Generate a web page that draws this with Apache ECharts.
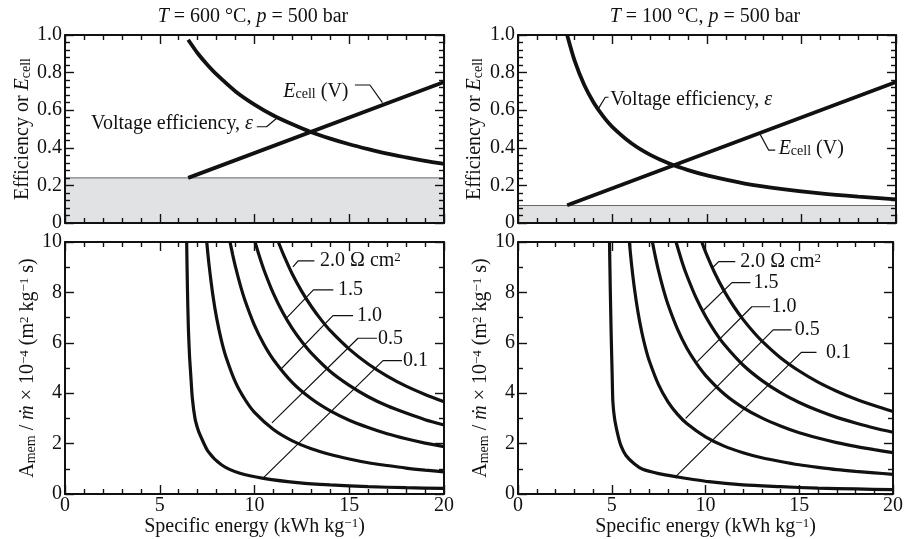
<!DOCTYPE html>
<html>
<head>
<meta charset="utf-8">
<script src="https://cdn.jsdelivr.net/npm/echarts@6/dist/echarts.min.js"></script>
<style>
  html, body { margin: 0; padding: 0; background: #fff; }
  #chart { width: 906px; height: 539px; }
</style>
</head>
<body>
<div id="chart"></div>
<script>
const FONT = '"Liberation Serif", "DejaVu Serif", serif';
const INK = '#111';

// ── top panels: efficiency and cell voltage vs specific energy ──
const EFF_600 = [[6.5, 0.975], [7, 0.903], [7.5, 0.843], [8, 0.79], [9, 0.70], [10, 0.63], [11, 0.572], [12, 0.525],
  [13, 0.483], [14, 0.449], [15, 0.419], [16, 0.393], [17, 0.369], [18, 0.349], [19, 0.33], [20, 0.314]];
const ECELL_600 = [[6.5, 0.24], [20, 0.75]];
const FLOOR_600 = 0.24;

const EFF_100 = [[2.6, 1.0], [3, 0.862], [3.5, 0.735], [4, 0.641], [4.5, 0.568], [5, 0.51], [6, 0.424], [7, 0.362],
  [8, 0.316], [9, 0.281], [10, 0.253], [12, 0.21], [14, 0.18], [16, 0.157], [18, 0.14], [20, 0.126]];
const ECELL_100 = [[2.6, 0.094], [20, 0.75]];
const FLOOR_100 = 0.093;

// ── bottom panels: membrane area per mass flow, one curve per resistance ──
const R_LABELS = ['0.1', '0.5', '1.0', '1.5', '2.0'];

const AREA_600_R01 = [[6.42, 10], [6.46, 8.2], [6.51, 6.6], [6.57, 5.5], [6.63, 4.8], [6.72, 3.8], [6.86, 3.0], [7.0, 2.6],
  [7.13, 2.34], [7.56, 1.68], [8.27, 1.15], [9.23, 0.82], [10.47, 0.62], [12.4, 0.44], [14, 0.36], [16, 0.29], [18, 0.25], [20, 0.22]];
const AREA_600_R05 = [[7.48, 10], [7.6, 9.1], [7.8, 7.91], [8, 6.99], [8.25, 6.11], [8.5, 5.43], [9, 4.43], [9.5, 3.75],
  [10, 3.24], [11, 2.56], [12, 2.11], [13, 1.8], [14, 1.57], [15, 1.39], [16, 1.24], [17, 1.13], [18, 1.03], [19, 0.95], [20, 0.88]];
const AREA_600_R10 = [[8.71, 10], [8.85, 9.49], [9, 9.0], [9.25, 8.29], [9.5, 7.68], [10, 6.69], [10.5, 5.93], [11, 5.33],
  [12, 4.42], [13, 3.78], [14, 3.3], [15, 2.93], [16, 2.64], [17, 2.39], [18, 2.19], [19, 2.02], [20, 1.88]];
const AREA_600_R15 = [[10.03, 10], [10.25, 9.45], [10.5, 8.89], [11, 7.95], [11.5, 7.19], [12, 6.56], [12.5, 6.04], [13, 5.59],
  [14, 4.86], [15, 4.31], [16, 3.86], [17, 3.5], [18, 3.21], [19, 2.95], [20, 2.74]];
const AREA_600_R20 = [[11.26, 10], [11.5, 9.55], [12, 8.72], [12.5, 8.03], [13, 7.44], [13.5, 6.93], [14, 6.48], [15, 5.75],
  [16, 5.16], [17, 4.68], [18, 4.28], [19, 3.95], [20, 3.66]];

const AREA_100_R01 = [[4.88, 10], [4.92, 8.2], [4.97, 6.31], [5.02, 4.8], [5.06, 3.66], [5.15, 3.0], [5.33, 2.34], [5.5, 1.9],
  [5.76, 1.53], [6.2, 1.2], [6.65, 0.98], [7.5, 0.81], [8.41, 0.69], [10.17, 0.49], [12, 0.36], [14, 0.29], [16, 0.23], [18, 0.2], [20, 0.17]];
const AREA_100_R05 = [[5.94, 10], [6.05, 9.15], [6.2, 8.21], [6.4, 7.21], [6.6, 6.43], [6.8, 5.8], [7, 5.29], [7.5, 4.33],
  [8, 3.66], [8.5, 3.17], [9, 2.8], [10, 2.27], [11, 1.9], [12, 1.64], [13, 1.44], [14, 1.29], [15, 1.16], [16, 1.06], [17, 0.97], [18, 0.9], [19, 0.84], [20, 0.78]];
const AREA_100_R10 = [[7.17, 10], [7.3, 9.51], [7.5, 8.84], [7.75, 8.13], [8, 7.52], [8.5, 6.55], [9, 5.79], [9.5, 5.2],
  [10, 4.71], [11, 3.97], [12, 3.43], [13, 3.02], [14, 2.7], [15, 2.43], [16, 2.22], [17, 2.04], [18, 1.89], [19, 1.76], [20, 1.64]];
const AREA_100_R15 = [[8.43, 10], [8.75, 9.21], [9, 8.68], [9.5, 7.78], [10, 7.05], [10.5, 6.44], [11, 5.93], [12, 5.12],
  [13, 4.51], [14, 4.02], [15, 3.63], [16, 3.31], [17, 3.04], [18, 2.82], [19, 2.62], [20, 2.45]];
const AREA_100_R20 = [[9.8, 10], [10, 9.61], [10.5, 8.76], [11, 8.05], [11.5, 7.45], [12, 6.93], [12.5, 6.48], [13, 6.08],
  [14, 5.41], [15, 4.88], [16, 4.44], [17, 4.08], [18, 3.77], [19, 3.51], [20, 3.27]];

// ── annotation anchors (data coords of each panel) ──
const TOP_600_NOTES = [['{i|E}{sub|cell} (V)', 11.52, 0.70, 'left'], ['Voltage efficiency, {i|ε}', 9.92, 0.53, 'right']];
const TOP_600_LEADERS = [[[15.3, 0.734], [16.09, 0.734], [16.75, 0.64]], [[10.12, 0.512], [10.64, 0.512], [11.17, 0.557]]];
const TOP_100_NOTES = [['Voltage efficiency, {i|ε}', 4.88, 0.654, 'left'], ['{i|E}{sub|cell} (V)', 13.79, 0.397, 'left']];
const TOP_100_LEADERS = [[[4.79, 0.669], [4.62, 0.669], [4.26, 0.61]], [[13.61, 0.388], [13.26, 0.388], [12.82, 0.47]]];

const BOT_600_NOTES = [[17.84, 5.29], [16.52, 6.18], [15.41, 7.08], [14.41, 8.10], [13.46, 9.25]];
const BOT_600_LEADERS = [
  [[17.78, 5.29], [16.78, 5.29], [10.45, 0.63]],
  [[16.46, 6.18], [15.46, 6.18], [10.92, 2.82]],
  [[15.2, 7.08], [14.14, 7.08], [11.35, 4.92]],
  [[14.16, 8.1], [13.11, 8.1], [11.7, 6.99]],
  [[13.16, 9.25], [12.3, 9.25], [12.03, 9.01]]
];
const BOT_100_NOTES = [[16.43, 5.62], [14.76, 6.51], [13.52, 7.43], [12.56, 8.39], [11.85, 9.22]];
const BOT_100_LEADERS = [
  [[15.92, 5.62], [15.11, 5.62], [8.41, 0.69]],
  [[14.59, 6.51], [13.61, 6.51], [8.94, 3.0]],
  [[13.44, 7.43], [12.47, 7.43], [9.56, 5.25]],
  [[12.39, 8.39], [11.41, 8.39], [9.91, 7.3]],
  [[11.59, 9.22], [10.7, 9.22], [10.35, 8.96]]
];

const RICH = {
  i: { fontFamily: FONT, fontSize: 20, fontStyle: 'italic', color: INK },
  sub: { fontFamily: FONT, fontSize: 14, verticalAlign: 'bottom', lineHeight: 12, color: INK },
  sup: { fontFamily: FONT, fontSize: 13, verticalAlign: 'top', lineHeight: 12, color: INK }
};

const TOP_NAME = 'Efficiency or {i|E}{sub|cell}';
const BOT_NAME = 'A{sub|mem} / {i|ṁ} × 10{sup|−4} (m{sup|2} kg{sup|−1} s)';
const X_NAME = 'Specific energy (kWh kg{sup|−1})';

const GRIDS = [
  { left: 65, top: 35, width: 379, height: 188 },
  { left: 65, top: 242, width: 379, height: 252 },
  { left: 518, top: 35, width: 378, height: 188 },
  { left: 518, top: 242, width: 378, height: 252 }
];

function tickStyle(len) {
  return { show: true, inside: true, length: len, lineStyle: { color: INK, width: 1.4 } };
}

function xAxes(g, withLabels) {
  const base = {
    gridIndex: g, type: 'value', min: 0, max: 20, interval: 5, z: 10,
    axisLine: { show: true, onZero: false, lineStyle: { color: INK, width: 2 } },
    axisTick: tickStyle(9),
    minorTick: { show: true, splitNumber: 5, length: 5, lineStyle: { color: INK, width: 1.4 } },
    splitLine: { show: false }
  };
  return [
    {
      ...base, position: 'bottom',
      axisLabel: { show: withLabels, margin: 2, fontFamily: FONT, fontSize: 20, color: INK },
      name: withLabels ? X_NAME : '', nameLocation: 'middle', nameGap: 20,
      nameTextStyle: { fontFamily: FONT, fontSize: 20, color: INK, rich: RICH }
    },
    { ...base, position: 'top', axisLabel: { show: false } }
  ];
}

function yAxes(g, isTop, gap) {
  const base = {
    gridIndex: g, type: 'value', min: 0, max: isTop ? 1 : 10, interval: isTop ? 0.2 : 2, z: 10,
    axisLine: { show: true, onZero: false, lineStyle: { color: INK, width: 2 } },
    axisTick: tickStyle(9),
    minorTick: { show: true, splitNumber: isTop ? 5 : 2, length: 5, lineStyle: { color: INK, width: 1.4 } },
    splitLine: { show: false }
  };
  return [
    {
      ...base, position: 'left',
      axisLabel: {
        margin: 3, fontFamily: FONT, fontSize: 20, color: INK,
        formatter: v => (isTop && v !== 0 ? v.toFixed(1) : String(v))
      },
      name: isTop ? TOP_NAME : BOT_NAME, nameLocation: 'middle', nameRotate: 90, nameGap: gap,
      nameTextStyle: { fontFamily: FONT, fontSize: 20, color: INK, rich: RICH }
    },
    { ...base, position: 'right', axisLabel: { show: false } }
  ];
}

function curve(g, data, width) {
  return {
    type: 'line', xAxisIndex: 2 * g, yAxisIndex: 2 * g, data, symbol: 'none', silent: true,
    smooth: 0.25, lineStyle: { color: INK, width }, z: 3
  };
}

function leader(g, data) {
  return {
    type: 'line', xAxisIndex: 2 * g, yAxisIndex: 2 * g, data, symbol: 'none', silent: true,
    lineStyle: { color: INK, width: 1.2 }, z: 4
  };
}

function floorBand(g, level) {
  return {
    type: 'line', xAxisIndex: 2 * g, yAxisIndex: 2 * g, data: [[0, level], [20, level]], symbol: 'none', silent: true,
    lineStyle: { color: '#666', width: 1 }, areaStyle: { color: '#e1e2e4', opacity: 1 }, z: 1
  };
}

const chart = echarts.init(document.getElementById('chart'), null, { renderer: 'canvas' });

const series = [
  floorBand(0, FLOOR_600), curve(0, EFF_600, 3.8), curve(0, ECELL_600, 3.8),
  ...TOP_600_LEADERS.map(d => leader(0, d)),
  floorBand(2, FLOOR_100), curve(2, EFF_100, 3.8), curve(2, ECELL_100, 3.8),
  ...TOP_100_LEADERS.map(d => leader(2, d)),
  ...[AREA_600_R01, AREA_600_R05, AREA_600_R10, AREA_600_R15, AREA_600_R20].map(d => curve(1, d, 3.2)),
  ...BOT_600_LEADERS.map(d => leader(1, d)),
  ...[AREA_100_R01, AREA_100_R05, AREA_100_R10, AREA_100_R15, AREA_100_R20].map(d => curve(3, d, 3.2)),
  ...BOT_100_LEADERS.map(d => leader(3, d))
];

chart.setOption({
  animation: false,
  textStyle: { fontFamily: FONT },
  title: [
    { text: '{i|T} = 600 °C, {i|p} = 500 bar', left: 248, top: 2, textAlign: 'center',
      textStyle: { fontFamily: FONT, fontSize: 20, fontWeight: 'normal', color: INK, rich: RICH } },
    { text: '{i|T} = 100 °C, {i|p} = 500 bar', left: 700, top: 2, textAlign: 'center',
      textStyle: { fontFamily: FONT, fontSize: 20, fontWeight: 'normal', color: INK, rich: RICH } }
  ],
  grid: GRIDS,
  xAxis: [...xAxes(0, false), ...xAxes(1, true), ...xAxes(2, false), ...xAxes(3, true)],
  yAxis: [...yAxes(0, true, 31), ...yAxes(1, false, 24), ...yAxes(2, true, 33), ...yAxes(3, false, 26)],
  series
});

// text annotations placed through each panel's own scales
function noteEl(g, text, x, y, align) {
  const p = chart.convertToPixel({ xAxisIndex: 2 * g, yAxisIndex: 2 * g }, [x, y]);
  return {
    type: 'text', x: p[0], y: p[1], z: 20, silent: true,
    style: { text, rich: RICH, fontFamily: FONT, fontSize: 20, fill: INK, align, verticalAlign: 'middle' }
  };
}

const graphic = [
  ...TOP_600_NOTES.map(n => noteEl(0, n[0], n[1], n[2], n[3])),
  ...TOP_100_NOTES.map(n => noteEl(2, n[0], n[1], n[2], n[3])),
  ...BOT_600_NOTES.map((n, i) => noteEl(1, i === 4 ? R_LABELS[i] + ' Ω cm{sup|2}' : R_LABELS[i], n[0], n[1], 'left')),
  ...BOT_100_NOTES.map((n, i) => noteEl(3, i === 4 ? R_LABELS[i] + ' Ω cm{sup|2}' : R_LABELS[i], n[0], n[1], 'left'))
];
chart.setOption({ graphic });

window.addEventListener('resize', () => chart.resize());
</script>
</body>
</html>
